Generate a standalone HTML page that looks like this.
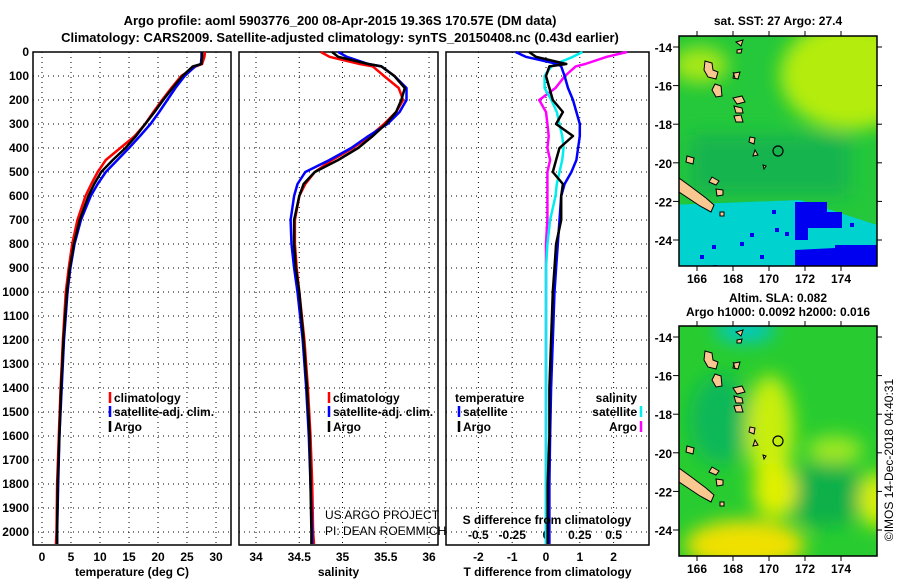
<!DOCTYPE html>
<html><head><meta charset="utf-8"><style>
html,body{margin:0;padding:0;background:#fff;}
svg{display:block;font-family:"Liberation Sans",sans-serif;}
.b{font-weight:bold;font-size:13px;}
.t{font-weight:bold;font-size:12px;}
</style></head><body>
<svg id="c" width="900" height="580" viewBox="0 0 900 580">
<text class="b" x="340" y="25" text-anchor="middle" font-size="14">Argo profile: aoml 5903776_200 08-Apr-2015 19.36S 170.57E (DM data)</text>
<text class="b" x="340" y="42" text-anchor="middle" font-size="14">Climatology: CARS2009. Satellite-adjusted climatology: synTS_20150408.nc (0.43d earlier)</text>
<g id="plots"></g>
<g id="maps"></g>
</svg>
<script>
// ---- data ----
const depthTicks=[0,100,200,300,400,500,600,700,800,900,1000,1100,1200,1300,1400,1500,1600,1700,1800,1900,2000];
const depths=[0,20,50,60,100,150,200,250,300,350,400,450,500,550,600,700,800,900,1000,1200,1400,1600,1800,2000,2050];
const tempArgo=[27.6,27.6,27.5,26.0,24.2,22.5,20.9,19.4,17.8,16.2,14.4,12.2,10.2,9.0,8.0,6.5,5.5,4.8,4.3,3.7,3.3,3.0,2.7,2.6,2.6];
const tempClim=[28.1,28.0,27.6,26.5,24.0,22.3,20.7,19.2,17.8,16.0,13.5,11.0,9.6,8.5,7.5,6.1,5.2,4.6,4.1,3.6,3.2,2.9,2.6,2.5,2.4];
const tempSat=[27.5,27.5,27.4,26.4,24.6,23.0,21.6,20.2,18.7,16.9,15.0,13.0,11.0,9.6,8.4,6.7,5.6,4.9,4.4,3.8,3.4,3.0,2.8,2.6,2.6];
const salArgo=[34.88,34.95,35.3,35.45,35.6,35.72,35.68,35.62,35.5,35.35,35.18,34.95,34.68,34.55,34.5,34.44,34.44,34.46,34.5,34.55,34.59,34.62,34.63,34.64,34.64];
const salClim=[34.75,34.85,35.2,35.35,35.48,35.65,35.7,35.62,35.48,35.32,35.12,34.88,34.68,34.57,34.5,34.45,34.45,34.47,34.5,34.56,34.6,34.63,34.65,34.66,34.67];
const salSat=[34.95,35.05,35.3,35.45,35.6,35.74,35.74,35.66,35.52,35.3,35.1,34.85,34.57,34.48,34.44,34.40,34.41,34.44,34.48,34.54,34.58,34.61,34.63,34.65,34.65];
const tdArgo=[-0.5,-0.3,0.6,0.1,0.0,0.1,0.2,0.5,0.3,0.8,0.4,0.3,0.2,0.5,0.45,0.45,0.3,0.25,0.2,0.15,0.1,0.1,0.05,0.05,0.05];
const tdSat=[-0.9,-0.6,0.35,0.45,0.55,0.65,0.8,0.9,1.0,1.0,0.95,0.9,0.75,0.55,0.45,0.4,0.35,0.3,0.25,0.2,0.15,0.12,0.1,0.1,0.1];
const sdArgo=[0.6,0.45,0.29,0.22,0.14,0.07,-0.05,0.0,0.01,0.02,0.01,0.03,0.01,0.01,0.01,0.01,0.0,0.0,0.0,0.0,0.0,0.0,0.0,0.0,0.0];
const sdSat=[0.27,0.2,0.07,0.04,-0.01,-0.01,0.04,0.08,0.1,0.12,0.13,0.12,0.1,0.08,0.07,0.03,0.01,0.0,0.0,0.0,0.0,0.0,0.0,0.0,0.0];
const tTicks=[0,5,10,15,20,25,30];
const sTicks=[34,34.5,35,35.5,36];
const dTTicks=[-2,-1,0,1,2];
const dSTickLabels=["-0.5","-0.25","0","0.25","0.5"];
// ---- helpers ----
const NS="http://www.w3.org/2000/svg";
const plots=document.getElementById('plots');
function mk(tag,attrs,parent){const e=document.createElementNS(NS,tag);for(const k in attrs)e.setAttribute(k,attrs[k]);(parent||plots).appendChild(e);return e;}
const yTop=52,yBot=545;
const yS=d=>yTop+d*0.24;
const xT=v=>42+v*5.8;
const xSal=v=>256+(v-34)*86.5;
const xDT=v=>546+v*33.8;
const xDS=v=>546+v*135.2;
const panels=[{x0:33,x1:231,ticks:tTicks,f:xT,title:"temperature (deg C)"},{x0:239,x1:438,ticks:sTicks,f:xSal,title:"salinity"},{x0:446,x1:649,ticks:dTTicks,f:xDT,title:"T difference from climatology"}];
panels.forEach((p,i)=>{
  const g=mk('g',{});
  
  
  depthTicks.forEach(d=>{const l=mk('line',{x1:p.x0,x2:p.x1,y1:yS(d),y2:yS(d),stroke:'#000','stroke-dasharray':'1,4','stroke-width':1},g);
    });
  p.ticks.forEach(v=>{const l=mk('line',{x1:p.f(v),x2:p.f(v),y1:yTop,y2:yBot,stroke:'#000','stroke-dasharray':'1,4','stroke-width':1},g);
    
    const t=mk('text',{x:p.f(v),y:561,'text-anchor':'middle','class':'t'},g);t.textContent=v;
    });
  const r=mk('rect',{x:p.x0,y:yTop,width:p.x1-p.x0,height:yBot-yTop,fill:'none',stroke:'#000','stroke-width':1.5},g);
  
  const tt=mk('text',{x:(p.x0+p.x1)/2,y:576,'text-anchor':'middle','class':'t'},g);tt.textContent=p.title;
  
});
depthTicks.forEach(d=>{const t=mk('text',{x:29,y:yS(d)+4,'text-anchor':'end','class':'t'});t.textContent=d;
  });
dSTickLabels.forEach((s,i)=>{const t=mk('text',{x:xDS([-0.5,-0.25,0,0.25,0.5][i]),y:539,'text-anchor':'middle','class':'t'});t.textContent=s;
  });
function line(vals,fx,color,name,w){
  const pts=vals.map((v,i)=>fx(v).toFixed(1)+','+yS(depths[i]).toFixed(1)).join(' ');
  const e=mk('polyline',{points:pts,fill:'none',stroke:color,'stroke-width':w||2.5,'stroke-linejoin':'round'});
  
  
}
line(tempClim,xT,'#f00','temp-climatology-line');
line(tempSat,xT,'#00f','temp-satellite-line');
line(tempArgo,xT,'#000','temp-argo-line');
line(salClim,xSal,'#f00','sal-climatology-line');
line(salSat,xSal,'#00f','sal-satellite-line');
line(salArgo,xSal,'#000','sal-argo-line');
line(sdArgo,xDS,'#f0f','sdiff-argo-line');
line(sdSat,xDS,'#0ee','sdiff-satellite-line');
line(tdSat,xDT,'#00f','tdiff-satellite-line');
line(tdArgo,xDT,'#000','tdiff-argo-line');
function leg(x,y,color,label,name,anchorEnd){
  const l=mk('line',{x1:x,x2:x,y1:y-10,y2:y+1,stroke:color,'stroke-width':2.5});
  
  const t=mk('text',{x:anchorEnd?x-4:x+4,y:y,'class':'t','text-anchor':anchorEnd?'end':'start'});t.textContent=label;
  
}
leg(110,402,'#f00','climatology','legend-climatology');
leg(110,416,'#00f','satellite-adj. clim.','legend-satellite');
leg(110,431,'#000','Argo','legend-argo');
leg(329,402,'#f00','climatology','legend-climatology-2');
leg(329,416,'#00f','satellite-adj. clim.','legend-satellite-2');
leg(329,431,'#000','Argo','legend-argo-2');
let t1=mk('text',{x:455,y:402,'class':'t'});t1.textContent='temperature';
leg(459,416,'#00f','satellite','legend-tdiff-satellite');
leg(459,431,'#000','Argo','legend-tdiff-argo');
let t2=mk('text',{x:637,y:402,'class':'t','text-anchor':'end'});t2.textContent='salinity';
leg(641,416,'#0ee','satellite','legend-sdiff-satellite',true);
leg(641,431,'#f0f','Argo','legend-sdiff-argo',true);
let t3=mk('text',{x:547,y:524,'class':'t','text-anchor':'middle'});t3.textContent='S difference from climatology';
let t4=mk('text',{x:325,y:519,'font-size':12});t4.textContent='US ARGO PROJECT';
let t5=mk('text',{x:325,y:535,'font-size':12});t5.textContent='PI: DEAN ROEMMICH';

// ---- maps ----
const maps=document.getElementById('maps');
function mm(tag,attrs,parent){const e=document.createElementNS(NS,tag);for(const k in attrs)e.setAttribute(k,attrs[k]);(parent||maps).appendChild(e);return e;}
const defs=mm('defs',{});
const flt=mm('filter',{id:'bl',x:'-50%',y:'-50%',width:'200%',height:'200%'},defs);
mm('feGaussianBlur',{stdDeviation:9},flt);
const lonTicks=[166,168,170,172,174];
const latTicks=[-14,-16,-18,-20,-22,-24];
const mx0=679,mx1=877;
const lonX=l=>697+(l-166)*18;
const latY=(l,top)=>top+11+(-14-l)*19.3;
function islands(g,top){
  const o=top-36;
  const shapes=["M705,61 L712,63 L713,70 L718,72 L716,79 L708,77 L704,70Z","M715,84 L721,86 L722,96 L716,97 L712,90Z","M734,73 L740,72 L738,79 L733,78Z","M733,98 L742,96 L745,102 L737,104Z","M734,106 L742,108 L743,113 L736,113Z","M734,116 L741,115 L743,122 L736,122Z","M750,137 L755,138 L754,144 L749,142Z","M755,150 L758,155 L753,156Z","M763,165 L766,166 L764,169Z","M712,177 L719,181 L716,185 L709,182Z","M687,156 L694,158 L693,164 L686,162Z","M716,189 L723,190 L723,195 L717,196Z","M679,178 L690,186 L706,198 L714,205 L711,212 L700,206 L685,196 L679,192Z","M720,212 L724,212 L724,216 L720,216Z","M736,42 L743,40 L741,46Z","M737,50 L742,49 L741,53 L737,53Z","M733,72 L735,78Z"];
  shapes.forEach((d,i)=>{const p=mm('path',{d:d,fill:'#f8c890',stroke:'#000','stroke-width':1,transform:'translate(0,'+o+')'},g);
    });
  const c=mm('circle',{cx:778,cy:151+o,r:5,fill:'none',stroke:'#000','stroke-width':1.2},g);
  
}
function axes(g,top,bot){
  mm('rect',{x:mx0,y:top,width:mx1-mx0,height:bot-top,fill:'none',stroke:'#000','stroke-width':1.5},g);
  lonTicks.forEach(l=>{mm('line',{x1:lonX(l),x2:lonX(l),y1:bot,y2:bot+5,stroke:'#000'},g);mm('line',{x1:lonX(l),x2:lonX(l),y1:top,y2:top-5,stroke:'#000'},g);
    const t=mm('text',{x:lonX(l),y:bot+17,'text-anchor':'middle','class':'t'},g);t.textContent=l;
    });
  latTicks.forEach(l=>{const y=latY(l,top);mm('line',{x1:mx0-6,x2:mx0,y1:y,y2:y,stroke:'#000'},g);mm('line',{x1:mx1,x2:mx1+5,y1:y,y2:y,stroke:'#000'},g);
    const t=mm('text',{x:672,y:y+5,'text-anchor':'end','class':'t'},g);t.textContent=l;
    });
}
// SST map
const g1=mm('g',{});
const cp1=mm('clipPath',{id:'cp1'},defs);mm('rect',{x:mx0,y:36,width:198,height:230},cp1);
const s1=mm('g',{'clip-path':'url(#cp1)'},g1);
mm('rect',{x:mx0,y:36,width:198,height:230,fill:'#24c83a'},s1);
const bl1=mm('g',{filter:'url(#bl)'},s1);
mm('ellipse',{cx:850,cy:75,rx:70,ry:55,fill:'#b4ec10'},bl1);
mm('ellipse',{cx:700,cy:65,rx:28,ry:18,fill:'#a8e818'},bl1);
mm('rect',{x:690,y:135,width:160,height:60,fill:'#14b450'},bl1);
mm('path',{d:'M670,205 L800,200 L877,225 L890,280 L670,280Z',fill:'#00d2d0'},s1);
mm('path',{d:'M795,202 L827,202 L827,212 L842,212 L842,228 L808,228 L808,240 L795,240Z',fill:'#0000f0'},s1);
mm('path',{d:'M795,250 L835,248 L835,245 L877,245 L877,266 L795,266Z',fill:'#0000f0'},s1);
[[772,210],[775,228],[785,232],[750,233],[740,242],[712,245],[760,255],[700,255],[713,265],[850,223]].forEach(p=>mm('rect',{x:p[0],y:p[1],width:4,height:4,fill:'#0000f0'},s1));
islands(s1,36);
axes(g1,36,266);
let mt1=mm('text',{x:778,y:25,'text-anchor':'middle','class':'t'});mt1.textContent='sat. SST: 27 Argo: 27.4';
// SLA map
const g2=mm('g',{});
const cp2=mm('clipPath',{id:'cp2'},defs);mm('rect',{x:mx0,y:326,width:198,height:230},cp2);
const s2=mm('g',{'clip-path':'url(#cp2)'},g2);
mm('rect',{x:mx0,y:326,width:198,height:230,fill:'#28cc30'},s2);
const bl2=mm('g',{filter:'url(#bl)'},s2);
mm('ellipse',{cx:745,cy:330,rx:30,ry:12,fill:'#00c8c8'},bl2);
mm('ellipse',{cx:720,cy:420,rx:30,ry:45,fill:'#10b858'},bl2);
mm('ellipse',{cx:825,cy:495,rx:40,ry:32,fill:'#10b048'},bl2);
mm('ellipse',{cx:770,cy:430,rx:24,ry:55,fill:'#c8ee10'},bl2);
mm('ellipse',{cx:775,cy:490,rx:22,ry:28,fill:'#e0f000'},bl2);
mm('ellipse',{cx:745,cy:545,rx:60,ry:25,fill:'#f0e000'},bl2);
mm('ellipse',{cx:877,cy:500,rx:18,ry:28,fill:'#d8f000'},bl2);
mm('ellipse',{cx:835,cy:450,rx:28,ry:14,fill:'#a0e820'},bl2);
islands(s2,326);
axes(g2,326,556);
let mt2=mm('text',{x:778,y:302,'text-anchor':'middle','class':'t'});mt2.textContent='Altim. SLA: 0.082';
let mt3=mm('text',{x:778,y:316,'text-anchor':'middle','class':'t'});mt3.textContent='Argo h1000: 0.0092 h2000: 0.016';
let cr=mm('text',{x:0,y:0,'font-size':12,'text-anchor':'middle',transform:'translate(893,460) rotate(-90)'});cr.textContent='©IMOS 14-Dec-2018 04:40:31';
</script>
</body></html>
